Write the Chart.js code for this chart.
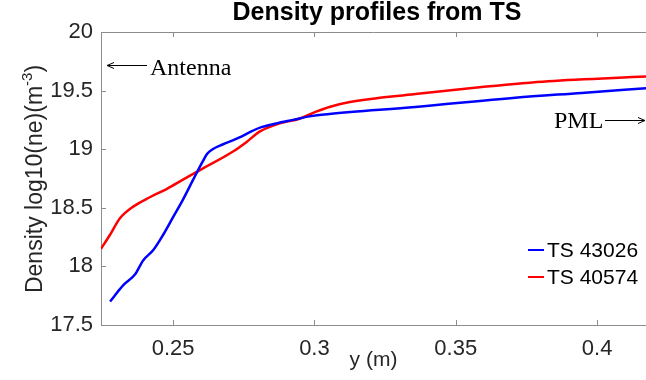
<!DOCTYPE html>
<html>
<head>
<meta charset="utf-8">
<script src="https://cdn.jsdelivr.net/npm/chart.js@4"></script>
<style>
  html, body { margin: 0; padding: 0; background: #fff; }
  #wrap { width: 646px; height: 380px; position: relative; }
</style>
</head>
<body>
<div id="wrap"><canvas id="chart"></canvas></div>
<script>
// ── Data ──────────────────────────────────────────────────────────────────────
const blueX = [0.2277, 0.2324, 0.2365, 0.2394, 0.2430, 0.2465, 0.2500, 0.2535, 0.2571, 0.2588, 0.2606, 0.2620,
  0.2640, 0.2675, 0.2735, 0.2775, 0.2815, 0.2865, 0.2924, 0.2983, 0.3053, 0.3357, 0.3710, 0.3945, 0.4173];
const blueY = [17.70, 17.84, 17.93, 18.05, 18.14, 18.27, 18.42, 18.57, 18.74, 18.82, 18.90, 18.96,
  19.00, 19.04, 19.10, 19.15, 19.19, 19.22, 19.25, 19.28, 19.30, 19.36, 19.44, 19.48, 19.52];

const redX = [0.2245, 0.2277, 0.2312, 0.2359, 0.2418, 0.2477, 0.2535, 0.2594, 0.2712, 0.2759, 0.2806, 0.2877,
  0.2947, 0.3006, 0.3053, 0.3121, 0.3357, 0.3592, 0.3827, 0.4173];
const redY = [18.15, 18.27, 18.41, 18.51, 18.59, 18.66, 18.74, 18.82, 18.98, 19.06, 19.15, 19.22,
  19.26, 19.32, 19.36, 19.40, 19.47, 19.53, 19.58, 19.62];

const xTicks = [0.25, 0.3, 0.35, 0.4];
const yTicks = [17.5, 18, 18.5, 19, 19.5, 20];
const seriesNames = ['TS 43026', 'TS 40574'];

const BLUE = '#0000ff';
const RED = '#ff0000';
const AXIS = '#8c8c8c';
const TEXT = '#262626';
const SANS = '"Liberation Sans", Arial, sans-serif';
const SERIF = '"Liberation Serif", "Times New Roman", serif';

const toPoints = (xs, ys) => xs.map((x, i) => ({ x, y: ys[i] }));

// ── Helpers ───────────────────────────────────────────────────────────────────
function arrow(ctx, x1, y, x2) {
  // line from x1 to x2, head at x2
  const dir = x2 > x1 ? 1 : -1;
  ctx.beginPath();
  ctx.moveTo(x1, y);
  ctx.lineTo(x2, y);
  ctx.moveTo(x2 - dir * 7, y - 3);
  ctx.lineTo(x2, y);
  ctx.lineTo(x2 - dir * 7, y + 3);
  ctx.stroke();
}

// ── Decorations plugin (box, inward ticks, titles, notes, legend) ────────────
const decor = {
  id: 'decor',
  afterDraw(chart) {
    const { ctx, chartArea: a, scales } = chart;
    ctx.save();

    // top axis line + inward ticks
    ctx.strokeStyle = AXIS;
    ctx.lineWidth = 1;
    ctx.beginPath();
    ctx.moveTo(a.left, a.top + 0.5);
    ctx.lineTo(a.right, a.top + 0.5);
    xTicks.forEach(v => {
      const px = Math.round(scales.x.getPixelForValue(v)) + 0.5;
      ctx.moveTo(px, a.bottom);
      ctx.lineTo(px, a.bottom - 5);
      ctx.moveTo(px, a.top);
      ctx.lineTo(px, a.top + 5);
    });
    yTicks.forEach(v => {
      const py = Math.round(scales.y.getPixelForValue(v)) + 0.5;
      ctx.moveTo(a.left, py);
      ctx.lineTo(a.left + 5, py);
    });
    ctx.stroke();

    // title
    ctx.fillStyle = '#000';
    ctx.font = 'bold 25px ' + SANS;
    ctx.textAlign = 'center';
    ctx.textBaseline = 'alphabetic';
    ctx.fillText('Density profiles from TS', 377, 20);

    // x axis title
    ctx.fillStyle = TEXT;
    ctx.font = '21px ' + SANS;
    ctx.fillText('y (m)', (a.left + a.right) / 2, 366);

    // y axis title with superscript
    ctx.save();
    ctx.translate(42, 179);
    ctx.rotate(-Math.PI / 2);
    const main = 'Density log10(ne)(m';
    const sup = '-3';
    const tail = ')';
    ctx.font = '23px ' + SANS;
    const wMain = ctx.measureText(main).width;
    const wTail = ctx.measureText(tail).width;
    ctx.font = '15px ' + SANS;
    const wSup = ctx.measureText(sup).width;
    let x0 = -(wMain + wSup + wTail) / 2;
    ctx.textAlign = 'left';
    ctx.font = '23px ' + SANS;
    ctx.fillText(main, x0, 0);
    ctx.font = '15px ' + SANS;
    ctx.fillText(sup, x0 + wMain, -10);
    ctx.font = '23px ' + SANS;
    ctx.fillText(tail, x0 + wMain + wSup, 0);
    ctx.restore();

    // annotations
    ctx.strokeStyle = '#000';
    ctx.fillStyle = '#000';
    ctx.lineWidth = 1;
    ctx.font = '24px ' + SERIF;
    ctx.textAlign = 'left';
    arrow(ctx, 147, 65.5, 107);
    ctx.fillText('Antenna', 150, 75);
    ctx.fillText('PML', 554, 128);
    arrow(ctx, 605, 120.5, 645);

    // legend
    const items = [[seriesNames[0], BLUE, 250], [seriesNames[1], RED, 277]];
    ctx.font = '21px ' + SANS;
    ctx.textBaseline = 'middle';
    items.forEach(([label, color, y]) => {
      ctx.strokeStyle = color;
      ctx.lineWidth = 2;
      ctx.beginPath();
      ctx.moveTo(528, y);
      ctx.lineTo(544, y);
      ctx.stroke();
      ctx.fillStyle = '#000';
      ctx.fillText(label, 547, y + 1);
    });

    ctx.restore();
  }
};

// ── Chart ─────────────────────────────────────────────────────────────────────
new Chart(document.getElementById('chart'), {
  type: 'scatter',
  data: {
    datasets: [
      { label: seriesNames[0], data: toPoints(blueX, blueY), borderColor: BLUE, borderWidth: 2.5,
        showLine: true, pointRadius: 0, cubicInterpolationMode: 'monotone' },
      { label: seriesNames[1], data: toPoints(redX, redY), borderColor: RED, borderWidth: 2.5,
        showLine: true, pointRadius: 0, cubicInterpolationMode: 'monotone' }
    ]
  },
  options: {
    responsive: true,
    maintainAspectRatio: false,
    animation: false,
    layout: { padding: { top: 32, right: 0, left: 0, bottom: 0 } },
    plugins: { legend: { display: false }, tooltip: { enabled: false }, title: { display: false } },
    scales: {
      x: {
        type: 'linear',
        min: 0.2245,
        max: 0.4173,
        grid: { display: false, drawTicks: false },
        border: { display: true, color: AXIS },
        ticks: { color: TEXT, font: { family: SANS, size: 22 }, padding: 11, maxRotation: 0,
          callback: v => String(v) },
        afterBuildTicks: axis => { axis.ticks = xTicks.map(v => ({ value: v })); },
        afterFit: axis => { axis.height = 55; }
      },
      y: {
        type: 'linear',
        min: 17.5,
        max: 20,
        grid: { display: false, drawTicks: false },
        border: { display: true, color: AXIS },
        ticks: { color: TEXT, font: { family: SANS, size: 22 }, padding: 8,
          callback: v => String(v) },
        afterBuildTicks: axis => { axis.ticks = yTicks.map(v => ({ value: v })); },
        afterFit: axis => { axis.width = 101; }
      }
    }
  },
  plugins: [decor]
});
</script>
</body>
</html>
